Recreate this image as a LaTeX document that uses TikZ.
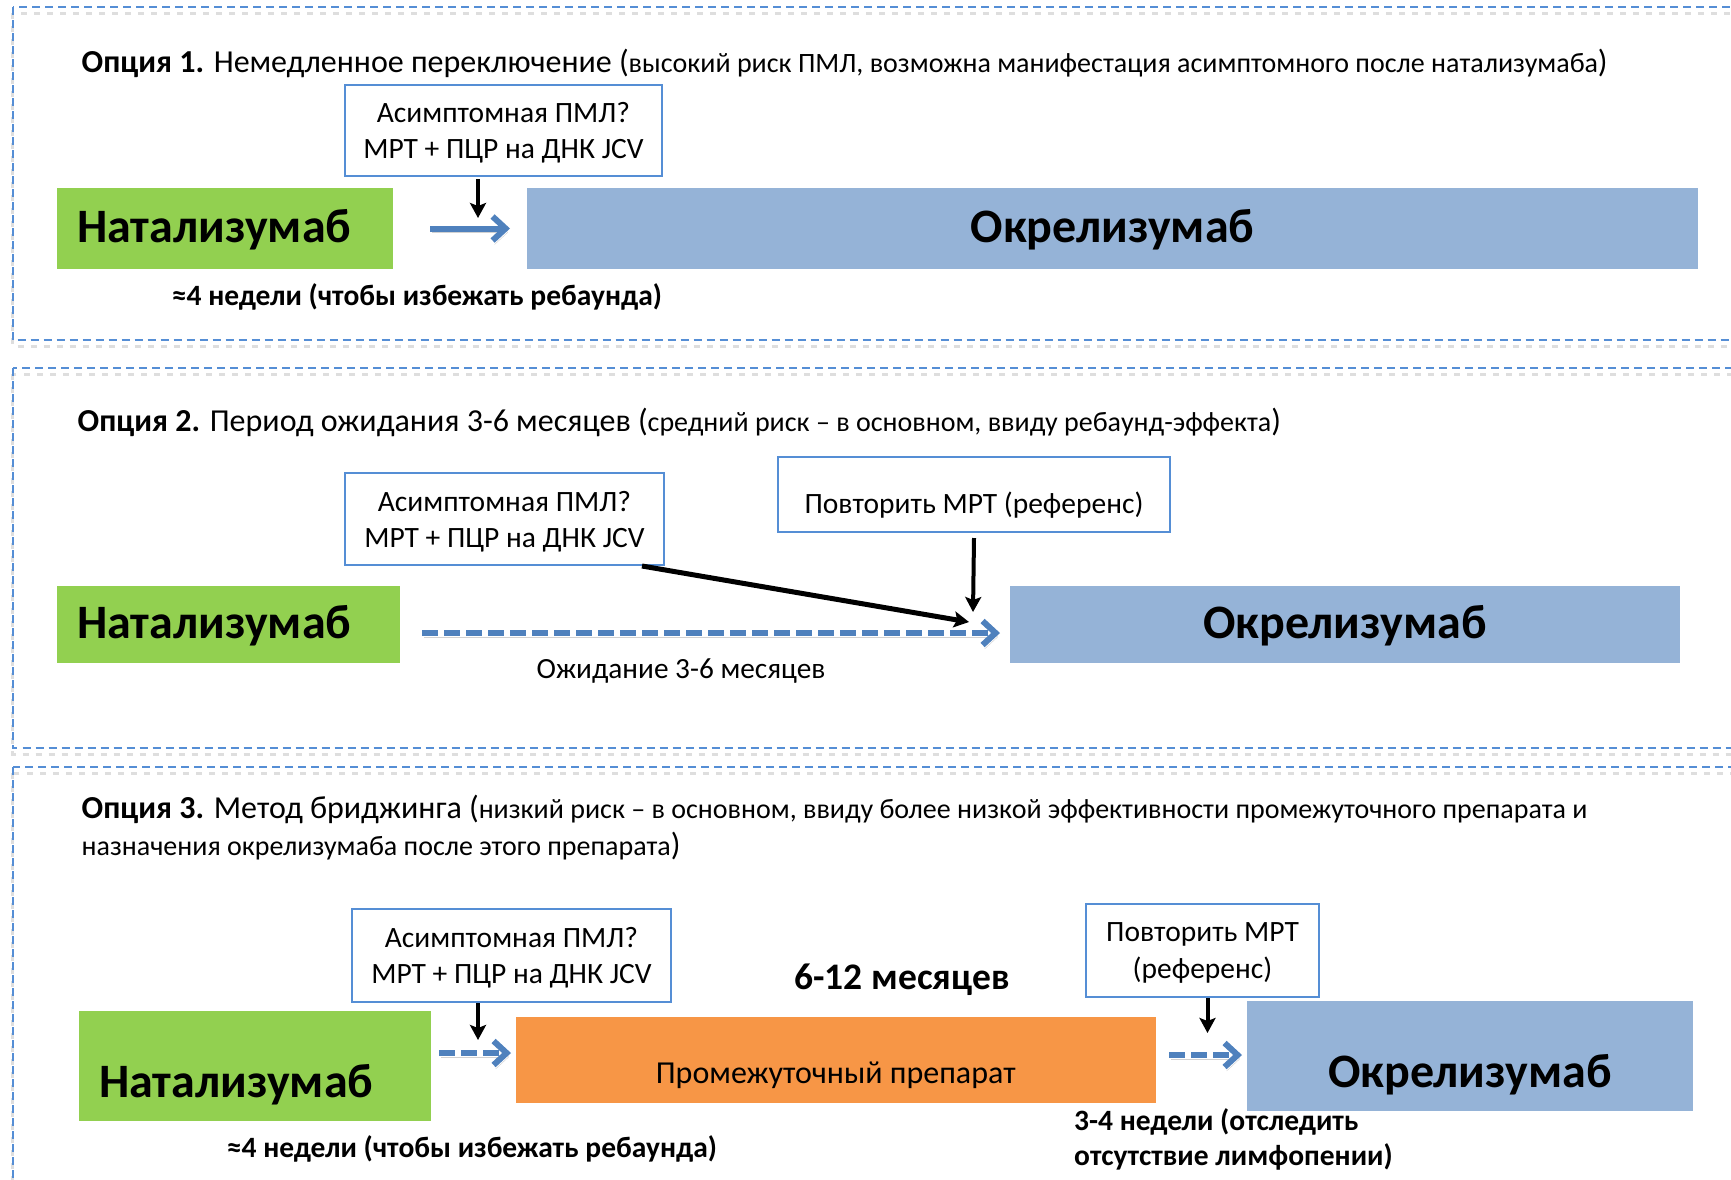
\documentclass[tikz,border=0pt]{standalone}
\usepackage{fontspec}
\setmainfont{Carlito}
\usetikzlibrary{arrows.meta}
\definecolor{frameblue}{RGB}{85,142,213}
\definecolor{arrowblue}{RGB}{79,129,189}
\definecolor{natgreen}{RGB}{146,208,80}
\definecolor{ocrblue}{RGB}{149,179,215}
\definecolor{bridgeorange}{RGB}{247,150,70}
\newcommand{\fsz}[2]{\fontsize{#1}{#2}\selectfont}
\newcommand{\bigt}{\fsz{32}{38}}
\newcommand{\smallt}{\fsz{28}{34}}
\tikzset{
  frame/.style={draw=frameblue, line width=2pt, dash pattern=on 8pt off 5pt,
    preaction={draw=black!13, line width=3pt, dash pattern=on 6pt off 7pt, transform canvas={shift={(0pt,-6pt)}}}},
  drug/.style={inner sep=0pt, outer sep=0pt, anchor=north west, font=\bfseries\fsz{48}{56}, text height=28pt, text depth=0pt},
  natbox/.style={drug, fill=natgreen, align=left, inner xsep=20pt},
  ocrbox/.style={drug, fill=ocrblue, align=center},
  midbox/.style={inner sep=0pt, outer sep=0pt, anchor=north west, fill=bridgeorange, font=\fsz{32}{38}, text height=46pt, text depth=0pt},
  infobox/.style={draw=frameblue, line width=2pt, fill=white, inner sep=0pt, anchor=north west, align=center, font=\fsz{29.5}{36}, text height=55pt, text depth=0pt},
  titletext/.style={anchor=base west, inner sep=0pt},
  weeks/.style={anchor=base, inner sep=0pt, font=\bfseries\fsz{29.5}{35}},
  blackarrow/.style={draw=black, line width=4pt, -{Stealth[length=15pt,width=16pt,inset=3pt]}},
  bluearrow/.style={draw=arrowblue, line width=6pt, -{Straight Barb[length=13pt,width=24pt]},
    preaction={draw=black!18, transform canvas={shift={(2pt,-4pt)}}}},
  bluedash/.style={bluearrow, dash pattern=on 16pt off 6pt},
}
\begin{document}
\begin{tikzpicture}[x=1pt,y=-1pt]
\useasboundingbox (0,0) rectangle (1731,1179);
\fill[white] (0,0) rectangle (1731,1179);
\clip (0,0) rectangle (1731,1179);
% frames
\draw[frame] (12.5,7) rectangle (1760,340);
\draw[frame] (12.5,368) rectangle (1760,748);
\draw[frame] (12.5,767) rectangle (1760,1220);

% ---------- Option 1
\node[titletext] (t1) at (81.5,72) {\bigt\textbf{Опция 1.} Немедленное переключение (\smallt высокий риск ПМЛ, возможна манифестация асимптомного после натализумаба\bigt)};
\node[infobox, minimum width=317pt, minimum height=91pt] (asym1) at (344,84) {Асимптомная ПМЛ?\\МРТ + ПЦР на ДНК JCV};
\node[natbox, text width=296pt, minimum height=81pt] (nat1) at (57,188) {Натализумаб};
\node[ocrbox, minimum width=1171pt, minimum height=81pt] (ocr1) at (527,188) {Окрелизумаб};
\coordinate (a1) at (478,218);
\draw[blackarrow] ([yshift=-2pt]asym1.south -| a1) -- (a1);
\draw[bluearrow] ([xshift=37pt]nat1.east) -- ([xshift=-17pt]ocr1.west);
\node[weeks] (w1) at (417,305) {≈4 недели (чтобы избежать ребаунда)};

% ---------- Option 2
\node[titletext] (t2) at (77.5,431) {\bigt\textbf{Опция 2.} Период ожидания 3-6 месяцев (\smallt средний риск – в основном, ввиду ребаунд-эффекта\bigt)};
\node[infobox, minimum width=319pt, minimum height=92pt, text height=57pt] (asym2) at (344,472) {Асимптомная ПМЛ?\\МРТ + ПЦР на ДНК JCV};
\node[infobox, minimum width=392pt, minimum height=75pt, text height=38pt, text depth=0pt] (rep2) at (777,456) {Повторить МРТ (референс)};
\node[natbox, text width=303pt, minimum height=77pt] (nat2) at (57,586) {Натализумаб};
\node[ocrbox, minimum width=670pt, minimum height=77pt] (ocr2) at (1010,586) {Окрелизумаб};
\draw[bluedash] ([shift={(22pt,-8.5pt)}]nat2.east) -- ([shift={(-10pt,-8.5pt)}]ocr2.west);
\coordinate (a2) at (973,612);
\draw[blackarrow] ([yshift=-5pt]rep2.south) -- (a2);
\coordinate (d2) at (969,622);
\draw[blackarrow, line width=5pt] ([xshift=-23pt]asym2.south east) -- (d2);
\node[anchor=base, inner sep=0pt, font=\fsz{29.3}{34}] (wait2) at (681,678) {Ожидание 3-6 месяцев};

% ---------- Option 3
\node[titletext] (t3a) at (81.5,818) {\bigt\textbf{Опция 3.} Метод бриджинга (\smallt низкий риск – в основном, ввиду более низкой эффективности промежуточного препарата и};
\node[titletext] (t3b) at (81.5,855) {\smallt назначения окрелизумаба после этого препарата\bigt)};
\node[infobox, minimum width=319pt, minimum height=93pt] (asym3) at (351,908) {Асимптомная ПМЛ?\\МРТ + ПЦР на ДНК JCV};
\node[infobox, minimum width=233pt, minimum height=93pt, font=\fsz{29.5}{37}] (rep3) at (1085,903) {Повторить МРТ\\(референс)};
\node[anchor=base, inner sep=0pt, font=\bfseries\fsz{37.5}{42}] (dur3) at (902,989) {6-12 месяцев};
\node[natbox, text width=312pt, minimum height=110pt, text height=62pt] (nat3) at (79,1011) {Натализумаб};
\node[midbox, minimum width=640.5pt, minimum height=86pt] (mid3) at (515.5,1017) {Промежуточный препарат};
\node[ocrbox, minimum width=446pt, minimum height=110pt, text height=62pt] (ocr3) at (1247,1001) {Окрелизумаб};
\coordinate (a3) at (478,1040);
\draw[blackarrow] (asym3.south -| a3) -- (a3);
\coordinate (a4) at (1207.5,1033);
\draw[blackarrow] (rep3.south -| a4) -- (a4);
\draw[bluedash] ([shift={(8pt,13pt)}]nat3.east) -- ([shift={(-4.5pt,7pt)}]mid3.west);
\draw[bluedash] ([shift={(13pt,5pt)}]mid3.east) -- ([shift={(-5pt,1pt)}]ocr3.west);
\node[anchor=base west, inner sep=0pt, align=left, font=\bfseries\fsz{29.5}{35}] (w3b) at (1074,1165) {3-4 недели (отследить\\отсутствие лимфопении)};
\node[weeks] (w3) at (472,1157) {≈4 недели (чтобы избежать ребаунда)};
\end{tikzpicture}
\end{document}
